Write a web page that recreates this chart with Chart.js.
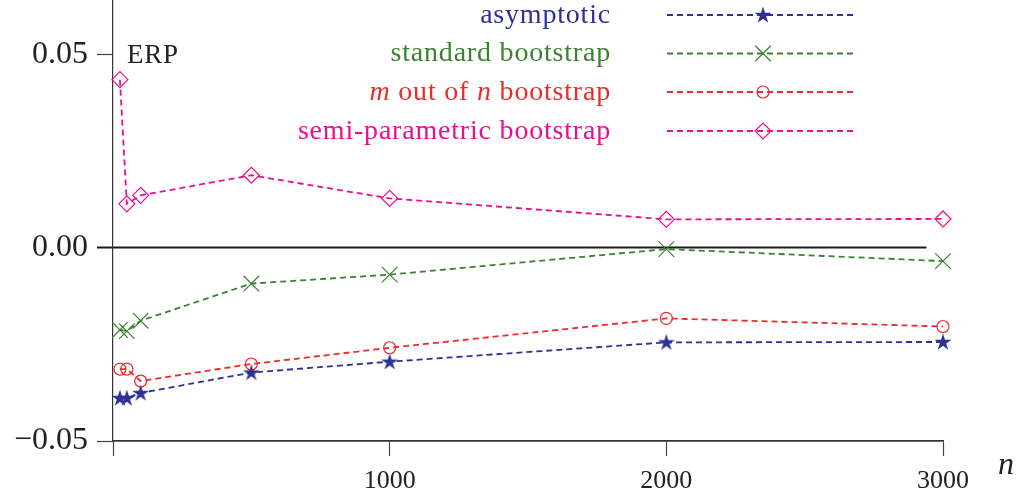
<!DOCTYPE html>
<html><head><meta charset="utf-8">
<script src="https://cdn.jsdelivr.net/npm/chart.js@4.4.1/dist/chart.umd.min.js"></script>
<style>html,body{margin:0;padding:0;background:#fff}#wrap{width:1023px;height:494px}</style>
</head><body><div id="wrap"><canvas id="c" width="1023" height="494"></canvas></div>
<script>
// ---- data ----
const nValues = [25, 50, 100, 500, 1000, 2000, 3000];
const asymptotic = [-0.0389, -0.0389, -0.0376, -0.0323, -0.0295, -0.0245, -0.0244];
const standardBootstrap = [-0.0213, -0.0216, -0.0189, -0.0093, -0.0070, -0.0004, -0.0035];
const mOutOfN = [-0.0314, -0.0314, -0.0345, -0.0301, -0.0259, -0.0183, -0.0204];
const semiParametric = [0.0434, 0.0113, 0.0135, 0.0187, 0.0127, 0.0073, 0.0074];
const zeroLineN = [0, 2940];
const zeroLineValues = [0, 0];
const seriesNames = ['asymptotic', 'standard bootstrap', 'm out of n bootstrap', 'semi-parametric bootstrap'];
const yTickValues = [-0.05, 0, 0.05];
const yTickLabels = ['\u22120.05', '0.00', '0.05'];
const xTickValues = [0, 1000, 2000, 3000];
const xTickLabels = ['', '1000', '2000', '3000'];

// ---- styles ----
const FAMILY = "'Liberation Serif', 'DejaVu Serif', serif";
const BLUE = '#2e3192', GREEN = '#3b8034', RED = '#ee2a2a', MAGENTA = '#ec0d8f';
const DASH = [6, 4];

function makeStar(color) {
  const c = document.createElement('canvas');
  c.width = 20; c.height = 20;
  const g = c.getContext('2d');
  g.fillStyle = color;
  g.beginPath();
  for (let i = 0; i < 10; i++) {
    const r = i % 2 === 0 ? 9 : 3.3;
    const a = -Math.PI / 2 + i * Math.PI / 5;
    const px = 10 + r * Math.cos(a), py = 10.5 + r * Math.sin(a);
    if (i === 0) g.moveTo(px, py); else g.lineTo(px, py);
  }
  g.closePath();
  g.fill();
  return c;
}
const starImg = makeStar(BLUE);

const toPts = (ys) => nValues.map((n, i) => ({ x: n, y: ys[i] }));

const styles = [
  { color: BLUE, pointStyle: starImg, radius: 9, fill: BLUE },
  { color: GREEN, pointStyle: 'crossRot', radius: 11, fill: 'transparent' },
  { color: RED, pointStyle: 'circle', radius: 6, fill: 'transparent' },
  { color: MAGENTA, pointStyle: 'rectRot', radius: 8, fill: 'transparent' }
];
const seriesData = [asymptotic, standardBootstrap, mOutOfN, semiParametric];

const datasets = seriesData.map((ys, i) => ({
  label: seriesNames[i],
  data: toPts(ys),
  borderColor: styles[i].color,
  backgroundColor: styles[i].fill,
  borderWidth: 1.8,
  borderDash: DASH,
  pointStyle: styles[i].pointStyle,
  pointRadius: styles[i].radius,
  pointBorderColor: styles[i].color,
  pointBackgroundColor: styles[i].fill,
  pointBorderWidth: 1.2,
  tension: 0,
  fill: false,
  clip: false,
  order: 1
}));
datasets.push({
  label: 'zero',
  data: zeroLineN.map((n, i) => ({ x: n, y: zeroLineValues[i] })),
  borderColor: '#1a1a1a',
  borderWidth: 2,
  pointRadius: 0,
  fill: false,
  clip: false,
  order: 5
});

const textPlugin = {
  id: 'texts',
  afterDraw(chart) {
    const ctx = chart.ctx;
    ctx.save();
    ctx.fillStyle = '#222';
    ctx.textAlign = 'left';
    ctx.textBaseline = 'alphabetic';
    ctx.font = '27px ' + FAMILY;
    try { ctx.letterSpacing = '0.8px'; } catch (e) {}
    ctx.fillText('ERP', 127, 63);
    try { ctx.letterSpacing = '0px'; } catch (e) {}
    ctx.font = 'italic 32px ' + FAMILY;
    ctx.fillText('n', 998, 474);

    // legend
    const rowY = [15, 53.5, 92, 131];
    const rightX = 611;
    const lineX0 = 667, lineX1 = 857, markX = 763;
    const segs = [
      [[seriesNames[0], '']],
      [[seriesNames[1], '']],
      [['m', 'italic '], [' out of ', ''], ['n', 'italic '], [' bootstrap', '']],
      [[seriesNames[3], '']]
    ];
    for (let i = 0; i < 4; i++) {
      const y = rowY[i];
      const st = styles[i];
      ctx.fillStyle = st.color;
      try { ctx.letterSpacing = '0.8px'; } catch (e) {}
      let total = 0;
      for (const [t, f] of segs[i]) { ctx.font = f + '28px ' + FAMILY; total += ctx.measureText(t).width; }
      let x = rightX - total;
      for (const [t, f] of segs[i]) {
        ctx.font = f + '28px ' + FAMILY;
        ctx.fillText(t, x, y + 7.5);
        x += ctx.measureText(t).width;
      }
      try { ctx.letterSpacing = '0px'; } catch (e) {}
      ctx.strokeStyle = st.color;
      ctx.lineWidth = 1.8;
      ctx.setLineDash(DASH);
      ctx.beginPath(); ctx.moveTo(lineX0, y); ctx.lineTo(lineX1, y); ctx.stroke();
      ctx.setLineDash([]);
      ctx.fillStyle = st.fill;
      ctx.lineWidth = 1.2;
      Chart.helpers.drawPoint(ctx, { pointStyle: st.pointStyle, radius: st.radius, rotation: 0, borderWidth: 1.2 }, markX, y);
    }
    ctx.restore();
  }
};

new Chart(document.getElementById('c'), {
  type: 'line',
  data: { datasets },
  options: {
    responsive: false,
    animation: false,
    devicePixelRatio: 1,
    layout: { autoPadding: false, padding: { left: 0, right: 80, top: 0, bottom: 0 } },
    plugins: { legend: { display: false }, tooltip: { enabled: false } },
    scales: {
      x: {
        type: 'linear', min: 0, max: 3000,
        afterBuildTicks: (s) => { s.ticks = xTickValues.map(v => ({ value: v })); },
        afterFit: (s) => { s.height = 53; s.paddingLeft = 0; s.paddingRight = 0; },
        grid: { drawOnChartArea: false, drawTicks: true, tickLength: 15, tickColor: '#444', tickWidth: 1.2 },
        border: { display: true, color: '#333', width: 1.8 },
        ticks: {
          autoSkip: false, maxRotation: 0, padding: 10, color: '#222',
          font: { family: FAMILY, size: 26 },
          callback: (v) => { const k = xTickValues.indexOf(v); return k >= 0 ? xTickLabels[k] : ''; }
        }
      },
      y: {
        type: 'linear', min: -0.05, max: 0.064,
        afterBuildTicks: (s) => { s.ticks = yTickValues.map(v => ({ value: v })); },
        afterFit: (s) => { s.width = 113; s.paddingTop = 0; s.paddingBottom = 0; },
        grid: {
          drawOnChartArea: false, drawTicks: true, tickLength: 16,
          tickColor: (c) => (c.tick && c.tick.value === 0) ? '#1a1a1a' : '#444',
          tickWidth: (c) => (c.tick && c.tick.value === 0) ? 2 : 1.2
        },
        border: { display: true, color: '#333', width: 1.2 },
        ticks: {
          padding: 9, color: '#222',
          font: { family: FAMILY, size: 32 },
          callback: (v) => { const k = yTickValues.indexOf(v); return k >= 0 ? yTickLabels[k] : ''; }
        }
      }
    }
  },
  plugins: [textPlugin]
});
</script>
</body></html>
